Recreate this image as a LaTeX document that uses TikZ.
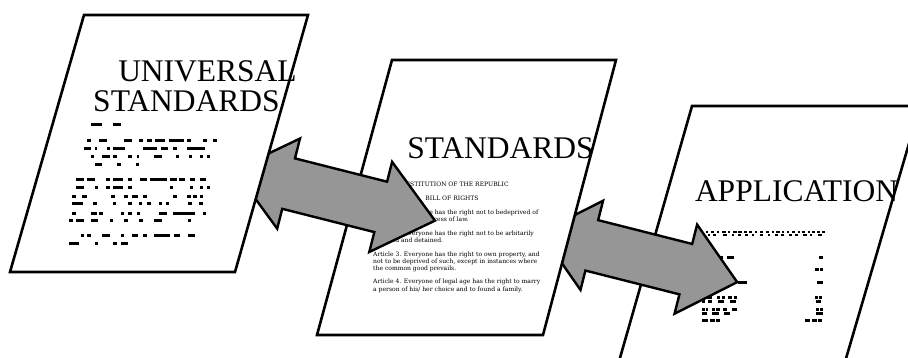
\documentclass[tikz,border=0pt]{standalone}
\usepackage{fontspec}
\setmainfont{Liberation Serif}
\newfontfamily\smallserif{DejaVu Serif}
\definecolor{arrowgray}{RGB}{150,150,150}
\tikzset{
  doc/.style={draw=black, fill=white, line width=2.6pt, line join=miter},
  blockarrow/.style={draw=black, fill=arrowgray, line width=2.4pt, line join=miter},
  title/.style={font=\fontsize{31.5}{36}\selectfont, inner sep=0pt, anchor=base},
  bodytext/.style={font=\smallserif\fontsize{6.05}{7}\selectfont, inner sep=0pt, anchor=base west},
  headtext/.style={bodytext, anchor=base},
}
\begin{document}
\begin{tikzpicture}[x=1pt,y=-1pt]
\useasboundingbox (0,0) rectangle (908,358);
\clip (0,0) rectangle (908,358);
% ---------- document 3 ----------
\draw[doc] (692,106) -- (920,106) -- (839.7,380) -- (613.7,380) -- cycle;
\node[title] (apptitle) at (796.5,201.7) {APPLICATION};
\foreach \y/\h/\segs in {
  232/2.5/{15/25,32/40,48/58,66/72,80/92,100/106,115/125,130/140,148/156,162/172,180/186,194/204,212/222,230/236,244/254,262/268,276/282,290/300,308/316,322/330,338/346,352/360,366/374,380/390},
  235/2.5/{18/28,38/46,55/62,85/95,110/118,128/138,150/160,170/178,195/205,218/226,240/250,258/266,282/292,300/308,325/335,345/352,370/380},
  258/3/{20/50,60/85,95/118,372/384},
  270/3/{360/372,376/385},
  283/3/{20/60,75/110,130/155,366/385},
  297/3/{20/32,36/50,65/75,80/90,100/112,116/125,360/368,372/380},
  301/3/{20/30,40/50,68/88,104/124,362/378},
  309/3/{20/30,34/40,50/60,64/75,85/95,110/125,362/372,376/385},
  313/3/{22/36,52/72,88/104,364/384},
  320/3/{20/40,45/60,64/75,330/345,350/365,370/380}}{
  \foreach \a/\b in \segs {
    \fill (695+\a/3,\y-\h/2) rectangle (695+\b/3,\y+\h/2);
  }
}
% ---------- arrow 2 ----------
\begin{scope}[shift={(638.8,257.25)}, rotate=-14.2]
  \draw[blockarrow] (-101.5,0) -- (-48.5,-46) -- (-48.5,-26) -- (48.5,-26) -- (48.5,-46)
    -- (101.5,0) -- (48.5,46) -- (48.5,26) -- (-48.5,26) -- (-48.5,46) -- cycle;
\end{scope}
% ---------- document 2 ----------
\draw[doc] (392,60) -- (616,60) -- (543,335) -- (317,335) -- cycle;
\node[title] (stdtitle) at (500.5,158.3) {STANDARDS};
\node[headtext] (const) at (452,186.5) {CONSTITUTION OF THE REPUBLIC};
\node[headtext] (bill) at (452,201) {BILL OF RIGHTS};
\node[bodytext] (a1a) at (373,214.7) {Article 1. Everyone has the right not to bedeprived of};
\node[bodytext] (a1b) at (373,222) {life without due process of law.};
\node[bodytext] (a2a) at (373,235.3) {Article 2. Everyone has the right not to be arbitarily};
\node[bodytext] (a2b) at (373,242.7) {arrested and detained.};
\node[bodytext] (a3a) at (373,257) {Article 3. Everyone has the right to own property, and};
\node[bodytext] (a3b) at (373,264) {not to be deprived of such, except in instances where};
\node[bodytext] (a3c) at (373,271) {the common good prevails.};
\node[bodytext] (a4a) at (373,283.7) {Article 4. Everyone of legal age has the right to marry};
\node[bodytext] (a4b) at (373,291) {a person of his/ her choice and to found a family.};
% ---------- arrow 1 ----------
\begin{scope}[shift={(334.65,195.25)}, rotate=-14.2]
  \draw[blockarrow] (-103.5,0) -- (-47.5,-46.5) -- (-47.5,-26) -- (47.5,-26) -- (47.5,-46.5)
    -- (103.5,0) -- (47.5,46.5) -- (47.5,26) -- (-47.5,26) -- (-47.5,46.5) -- cycle;
\end{scope}
% ---------- document 1 ----------
\draw[doc] (84,15) -- (308,15) -- (235,272) -- (10,272) -- cycle;
\node[title] (univ) at (207.5,81.7) {UNIVERSAL};
\node[title] (std1) at (186.5,111.7) {STANDARDS};
\foreach \y/\segs in {
  125/{93/125,160/183},
  141/{80/92,118/140,192/215,237/250,262/275,285/315,328/372,380/392,428/440,460/472},
  149/{72/92,105/112,140/150,160/195,248/290,303/325,340/350,380/435},
  157/{93/103,125/150,160/170,205/215,230/237,283/305,348/358,388/397,420/430,440/450},
  165/{105/125,172/182,228/237},
  180/{47/72,82/105,138/150,160/190,205/215,240/260,270/320,330/350,358/375,390/405,420/437},
  188/{47/73,105/115,138/150,160/190,205/215,330/340,390/400,420/430,440/450},
  196.5/{37/47,65/80,152/165,192/205,215/235,250/262,340/350,382/392,400/410,420/430},
  204/{37/70,100/110,158/168,205/215,237/247,262/272,297/305,318/328,385/395,418/428},
  214/{37/47,93/110,118/128,183/193,205/215,230/240,297/320,340/405,428/438},
  221/{28/38,48/73,93/113,150/160,192/205,238/248,283/305,383/393},
  235.5/{62/72,82/92,125/150,183/193,217/235,248/260,282/330,343/360,383/405},
  244/{28/58,105/115,160/170,183/205}}{
  \foreach \a/\b in \segs {
    \fill (60+\a/3,\y-1.5) rectangle (60+\b/3,\y+1.5);
  }
}
\end{tikzpicture}
\end{document}
